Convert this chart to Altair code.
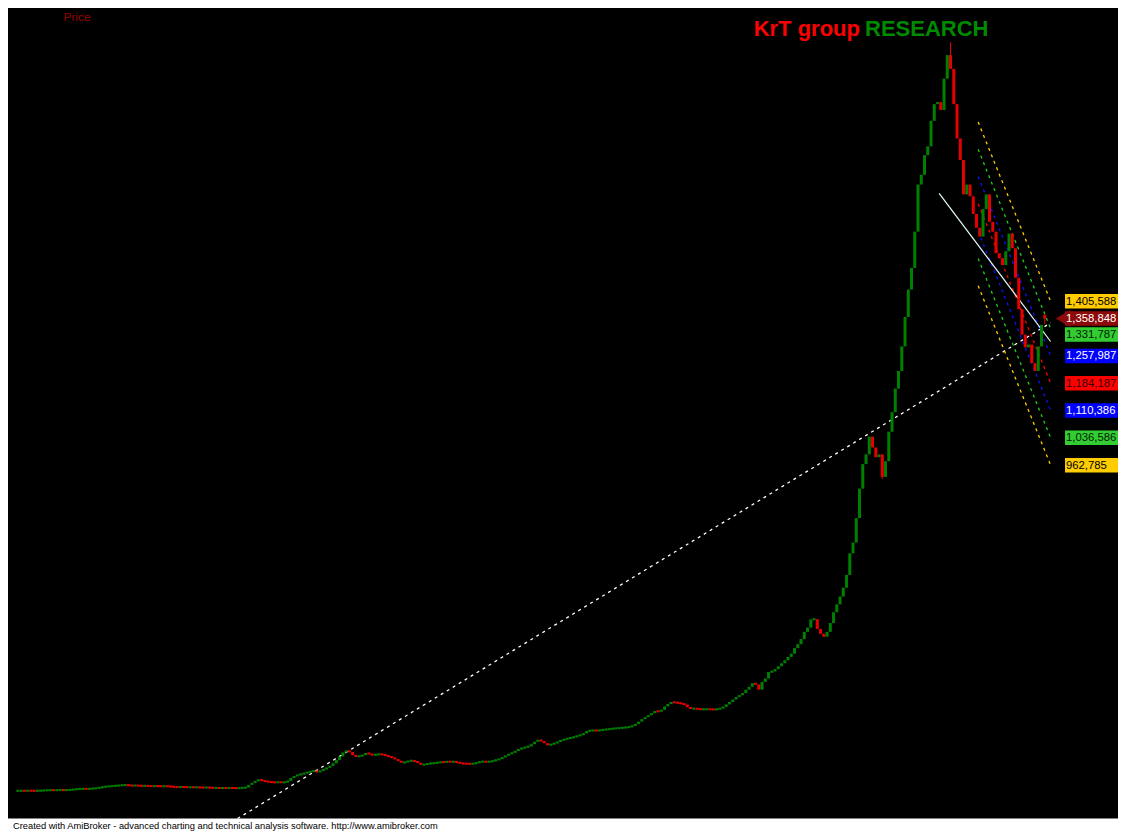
import altair as alt
import numpy as np
import pandas as pd

# ---- price data (closes, thousands) ----
closes_k = [
    82.5, 82.8, 82.6, 83.0, 82.7, 82.4, 82.9, 83.2,
    83.8, 84.2, 84.5, 84.1, 84.6, 84.9, 84.4, 84.8, 85.2,
    86.5, 87.3, 87.9, 88.2, 87.6, 88.4, 89.0,
    89.8, 91.5,
    93.0, 94.2, 95.0, 95.8, 96.5, 97.3, 98.0, 98.4, 97.2, 96.6, 97.0, 96.4, 95.8, 96.1, 95.5, 95.0, 95.6, 95.2, 94.7, 95.3, 94.8,
    93.8, 93.0, 92.4, 93.2, 92.8, 92.1, 92.6, 91.9, 92.3, 91.6, 91.2, 91.8, 91.0,
    90.2, 90.6, 89.8, 90.4, 89.9, 90.5, 90.1, 89.6, 90.3, 90.8, 91.5,
    98.6, 104.0, 109.2, 112.7, 110.6, 107.9, 106.6, 105.8, 105.2, 106.0,
    105.3, 105.8, 109.2, 117.2, 122.5, 126.0, 127.8, 130.5, 133.1, 135.0,
    136.3, 133.1, 137.1, 141.0, 145.0, 149.8, 157.0, 165.7, 175.5, 186.1,
    191.4, 187.5, 178.9, 174.7, 176.8, 178.9, 184.8, 182.1, 178.9, 180.8,
    181.6, 180.8, 178.1, 174.7, 172.9, 167.5, 163.6, 158.8, 159.6, 163.6,
    164.1, 162.3, 158.3, 152.5, 154.3, 155.7, 157.0, 157.5, 158.8, 160.4,
    160.1, 161.5, 160.9, 161.5, 159.6, 157.0, 156.2, 155.7, 155.1, 156.5,
    158.3, 161.5, 161.5, 160.9, 161.5, 163.6, 166.2, 168.9, 172.9, 178.1,
    182.1, 186.1, 190.1, 195.4, 198.1, 200.7, 202.6, 208.6, 215.2, 220.5,
    216.6, 211.2, 205.9, 208.6, 211.2, 215.2, 219.2, 221.9, 224.5, 225.9,
    228.5, 231.2, 233.8, 237.8, 244.5, 245.3, 245.8, 245.3, 246.3, 248.0,
    248.5, 249.8, 251.1, 251.7, 252.5, 253.0, 254.3, 255.1, 258.6, 263.0,
    269.6, 276.3, 281.6, 286.9, 292.2, 298.3, 296.7, 301.5, 310.8, 317.4,
    322.2, 321.4, 320.1, 318.0, 316.1, 308.2, 304.7, 304.7, 303.9, 302.8,
    302.8, 303.4, 302.8, 302.3, 303.4, 305.5, 309.4, 316.1, 322.7, 329.4,
    336.0, 341.3, 346.6, 355.9, 363.7, 373.5, 370.4, 355.9, 377.0, 386.3,
    403.5, 405.4, 411.5, 419.4, 427.3, 435.3, 444.6, 453.0, 468.4, 479.0,
    492.8, 512.2, 523.6, 545.9, 546.6, 520.1, 506.9, 498.9, 512.2, 536.0,
    565.2, 586.4, 607.6, 631.5, 666.0, 724.3, 753.5, 819.7, 899.2, 965.5,
    992.0, 1039.7, 1010.5, 984.1, 992.0, 931.0, 973.4, 1053.0, 1106.0, 1169.6,
    1217.3, 1283.6, 1363.1, 1437.4, 1495.7, 1593.8, 1721.0, 1747.5, 1800.5, 1824.4,
    1893.3, 1938.4, 1943.7, 1922.5, 2007.3, 2070.9, 2033.8, 1938.4, 1845.6, 1787.3,
    1694.5, 1721.0, 1689.2, 1641.5, 1604.4, 1580.5, 1654.8, 1694.5, 1620.3, 1593.8,
    1535.4, 1522.2, 1503.6, 1540.8, 1588.5, 1548.7, 1469.2, 1384.3, 1315.4, 1280.9,
    1288.9, 1238.5, 1217.3, 1283.6, 1341.9, 1358.848,
]
open_overrides_k = {316: 1368.4}
wick_idx = [287, 316, 266]
wick_hi_k = [2105.4, 1371.5, 985.0]
wick_lo_k = [2033.8, 1344.0, 925.0]

# regression channel (end values shown as labels)
channel_start_idx = 295.5
channel_end_idx = 317.8
channel_drop = 484700
level_names = ["+3", "+2", "+1", "0", "-1", "-2", "-3"]
level_values = [1405588, 1331787, 1257987, 1184187, 1110386, 1036586, 962785]
level_colors = ["#FFCC00", "#22CC22", "#1010FF", "#FF0000", "#1010FF", "#22CC22", "#FFCC00"]
label_fill = ["#FFCC00", "#33CC33", "#0000FF", "#FF0000", "#0000FF", "#33CC33", "#FFCC00"]
label_text = ["#000000", "#002200", "#FFFFFF", "#3A0000", "#FFFFFF", "#002200", "#000000"]
last_price = 1358848

# trend lines
solid_idx = [283.5, 317.8]
solid_val = [1697200, 1296900]
dotted_idx = [67.6, 317.8]
dotted_val = [7700, 1347200]

UP, DOWN = "#008000", "#E60000"

# ---- build tables ----
close = np.array(closes_k) * 1000.0
opn = np.concatenate([[close[0]], close[:-1]])
for k, v in open_overrides_k.items():
    opn[k] = v * 1000.0
lo = np.minimum(opn, close)
hi = np.maximum(opn, close)
minh = 5600.0
mid = (lo + hi) / 2
short = (hi - lo) < minh
lo = np.where(short, mid - minh / 2, lo)
hi = np.where(short, mid + minh / 2, hi)
candles = pd.DataFrame({
    "i": np.arange(len(close)),
    "lo": lo, "hi": hi,
    "col": np.where(close >= opn, UP, DOWN),
})
wicks = pd.DataFrame({
    "i": wick_idx,
    "lo": np.array(wick_lo_k) * 1000,
    "hi": np.array(wick_hi_k) * 1000,
    "col": [(UP if close[j] >= opn[j] else DOWN) for j in wick_idx],
})

ch_rows = []
for name, v, c in zip(level_names, level_values, level_colors):
    ch_rows.append({"i": channel_start_idx, "v": v + channel_drop, "lvl": name, "col": c})
    ch_rows.append({"i": channel_end_idx, "v": v, "lvl": name, "col": c})
channel = pd.DataFrame(ch_rows)

labels = pd.DataFrame({
    "lvl": level_names, "v": level_values, "fill": label_fill, "tc": label_text,
})
labels["txt"] = labels["v"].map(lambda x: f"{x:,}")
lab_main = labels[labels["lvl"] != "+2"]
lab_shift = labels[labels["lvl"] == "+2"]
cur = pd.DataFrame({"v": [last_price], "txt": [f"{last_price:,}"]})

solid = pd.DataFrame({"i": solid_idx, "v": solid_val})
dotted = pd.DataFrame({"i": dotted_idx, "v": dotted_val})

W, H = 1110, 823
xs = alt.Scale(domain=[-1.503, 337.0], nice=False, zero=False)
ys = alt.Scale(domain=[-26000, 2198200], nice=False, zero=False)
X = alt.X("i:Q", scale=xs, axis=None)
Y = alt.Y("v:Q", scale=ys, axis=None)
LIT = lambda f: alt.Color(f, scale=None)

body = alt.Chart(candles).mark_bar(size=3, clip=True).encode(
    x=X, y=alt.Y("lo:Q", scale=ys, axis=None), y2="hi:Q", color=LIT("col:N"))
wick = alt.Chart(wicks).mark_rule(strokeWidth=1, clip=True).encode(
    x=X, y=alt.Y("lo:Q", scale=ys, axis=None), y2="hi:Q", color=LIT("col:N"))

chan = alt.Chart(channel).mark_line(strokeDash=[3, 4], strokeWidth=1.3, clip=True).encode(
    x=X, y=Y, detail="lvl:N", color=LIT("col:N"))

solid_line = alt.Chart(solid).mark_line(color="#E6FFFF", strokeWidth=1.2, clip=True).encode(x=X, y=Y)
dotted_line = alt.Chart(dotted).mark_line(color="#FFFFFF", strokeWidth=1.3, strokeDash=[3, 4], clip=True).encode(x=X, y=Y)

box_x = 1084
text_x = 1058
FONT = "Liberation Sans"
FS = 11.3
boxes = alt.Chart(lab_main).mark_tick(orient="horizontal", size=54, thickness=14.5, opacity=1).encode(
    x=alt.value(box_x), y=Y, color=LIT("fill:N"))
box_txt = alt.Chart(lab_main).mark_text(align="left", baseline="middle", fontSize=FS, font=FONT, dy=0.5).encode(
    x=alt.value(text_x), y=Y, text="txt:N", color=LIT("tc:N"))
boxes2 = alt.Chart(lab_shift).mark_tick(orient="horizontal", size=54, thickness=14.5, opacity=1, yOffset=6).encode(
    x=alt.value(box_x), y=Y, color=LIT("fill:N"))
box_txt2 = alt.Chart(lab_shift).mark_text(align="left", baseline="middle", fontSize=FS, font=FONT, dy=6.5).encode(
    x=alt.value(text_x), y=Y, text="txt:N", color=LIT("tc:N"))

cur_arrow = alt.Chart(cur).mark_point(shape="triangle-left", filled=True, size=290, opacity=1, color="#8E0A0A").encode(
    x=alt.value(1055), y=Y)
cur_box = alt.Chart(cur).mark_tick(orient="horizontal", size=54, thickness=14.5, opacity=1, color="#8E0A0A").encode(
    x=alt.value(box_x), y=Y)
cur_txt = alt.Chart(cur).mark_text(align="left", baseline="middle", fontSize=FS, font=FONT, dy=0.5, color="#FFFFFF").encode(
    x=alt.value(text_x), y=Y, text="txt:N")

title_red = alt.Chart(pd.DataFrame({"t": ["KrT group"]})).mark_text(
    font=FONT, fontWeight="bold", fontSize=22,
    color="#FF0000", align="right", baseline="alphabetic").encode(x=alt.value(852), y=alt.value(28), text="t:N")
title_green = alt.Chart(pd.DataFrame({"t": ["RESEARCH"]})).mark_text(
    font=FONT, fontWeight="bold", fontSize=22,
    color="#008A00", align="left", baseline="alphabetic").encode(x=alt.value(857), y=alt.value(28), text="t:N")
price_lbl = alt.Chart(pd.DataFrame({"t": ["Price"]})).mark_text(
    font=FONT, fontSize=11.8, color="#990000", align="center", baseline="alphabetic").encode(
    x=alt.value(69), y=alt.value(12.8), text="t:N")

strip = alt.Chart(pd.DataFrame({"a": [0]})).mark_rect(color="#FFFFFF").encode(
    x=alt.value(0), x2=alt.value(W), y=alt.value(810.5), y2=alt.value(H))
footer = alt.Chart(pd.DataFrame({"t": ["Created with AmiBroker - advanced charting and technical analysis software. http://www.amibroker.com"]})).mark_text(
    font=FONT, fontSize=9.3, color="#000000", align="left", baseline="alphabetic").encode(
    x=alt.value(5), y=alt.value(820.5), text="t:N")

chart = alt.layer(
    dotted_line, chan, solid_line, wick, body,
    boxes, box_txt, boxes2, box_txt2, cur_arrow, cur_box, cur_txt,
    title_red, title_green, price_lbl, strip, footer,
).properties(
    width=W, height=H, padding=0, autosize=alt.AutoSizeParams(type="none"), background="#000000"
).configure_view(stroke=None, fill="#000000")

chart.save("out.html", embed_options={"renderer": "svg", "actions": False})
